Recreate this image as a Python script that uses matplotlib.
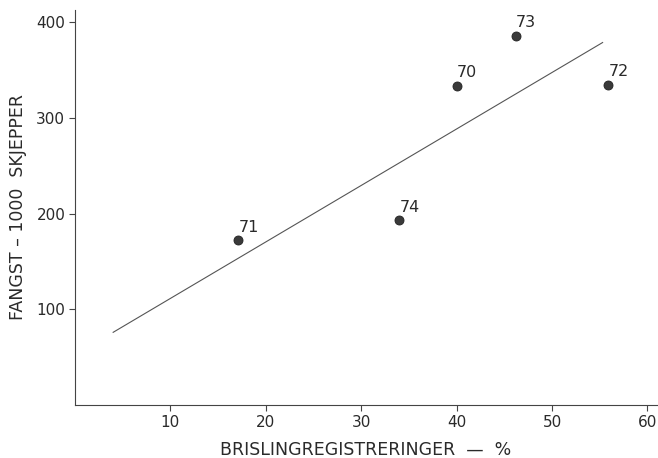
import matplotlib
matplotlib.use("Agg")
import matplotlib.pyplot as plt

# data
years = ["70", "71", "72", "73", "74"]
registrering = [40.0, 17.1, 55.9, 46.2, 34.0]   # brislingregistreringer, %
fangst = [334, 172, 335, 386, 193]               # fangst, 1000 skjepper
line_x = [4.0, 55.3]
line_y = [76, 379]

x_ticks = [10, 20, 30, 40, 50, 60]
y_ticks = [100, 200, 300, 400]

INK = "#2a2a2a"

plt.rcParams.update({"font.family": "DejaVu Sans", "font.size": 11})

fig = plt.figure(figsize=(6.58, 4.58), dpi=100)
ax = fig.add_axes([75 / 658, 53 / 458, 582 / 658, 395 / 458])

ax.plot(line_x, line_y, color="#555555", linewidth=0.8)
ax.plot(registrering, fangst, "o", markersize=6.5, color="#3a3a3a",
        markeredgecolor="#222222", markeredgewidth=0.6)

for x, y, lab in zip(registrering, fangst, years):
    ax.annotate(lab, (x, y), xytext=(7.5, 9.5), textcoords="offset points",
                ha="center", va="center", fontsize=11.5, color=INK)

ax.set_xlim(0, 61)
ax.set_ylim(0, 413)
ax.set_xticks(x_ticks)
ax.set_yticks(y_ticks)

for spine in ("top", "right"):
    ax.spines[spine].set_visible(False)
for spine in ("left", "bottom"):
    ax.spines[spine].set_linewidth(0.8)
    ax.spines[spine].set_color("#444444")
ax.tick_params(direction="out", length=4, width=0.8, colors="#444444",
               labelcolor=INK, labelsize=11, pad=3)

ax.set_xlabel("BRISLINGREGISTRERINGER  \u2014  %", fontsize=12.5, color=INK,
              labelpad=8)
ax.set_ylabel("FANGST \u2013 1000  SKJEPPER", fontsize=12.5, color=INK,
              labelpad=7)

fig.savefig("out.png", dpi=100)
